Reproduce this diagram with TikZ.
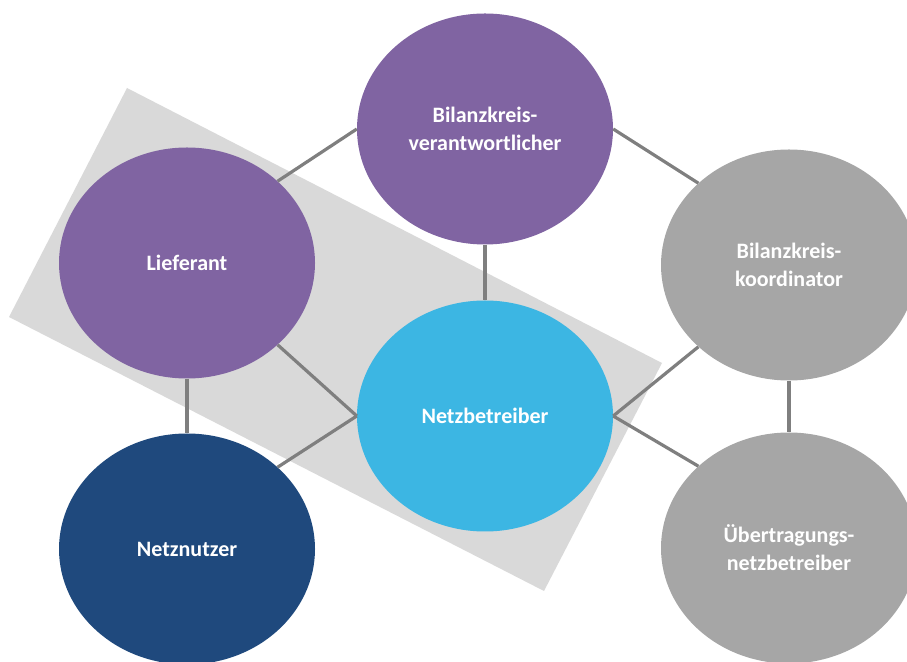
\documentclass[tikz,border=0pt]{standalone}
\usepackage{fontspec}
\setmainfont{Carlito}
\usetikzlibrary{shapes.geometric}
\definecolor{lila}{HTML}{8064A2}
\definecolor{hellblau}{HTML}{3CB6E3}
\definecolor{dunkelblau}{HTML}{1F497D}
\definecolor{grau}{HTML}{A6A6A6}
\definecolor{flaeche}{HTML}{D9D9D9}
\definecolor{linie}{HTML}{7F7F7F}
\tikzset{
  kreis/.style={ellipse,minimum width=256pt,minimum height=231pt,inner sep=0pt,
    text=white,align=center,font=\fontsize{22}{28}\selectfont\bfseries},
  verb/.style={draw=linie,line width=3.2pt}
}

\begin{document}
\begin{tikzpicture}[x=1pt,y=1pt]
\useasboundingbox (0,0) rectangle (907,661);
\fill[flaeche] (127,573)--(662,298)--(544,70)--(9,344)--cycle;
\node[kreis,fill=lila] (bkv) at (485,532) {Bilanzkreis-\\verantwortlicher};
\node[kreis,fill=lila] (lief) at (187,398) {Lieferant};
\node[kreis,fill=grau] (bkk) at (789,396) {Bilanzkreis-\\koordinator};
\node[kreis,fill=hellblau] (nb) at (485,245) {Netzbetreiber};
\node[kreis,fill=dunkelblau] (nn) at (187,112) {Netznutzer};
\node[kreis,fill=grau] (uenb) at (789,113) {Übertragungs-\\netzbetreiber};
\draw[verb] (lief.north east)--(bkv.west);
\draw[verb] (bkv.east)--(bkk.north west);
\draw[verb] (bkv.south)--(nb.north);
\draw[verb] (lief.south east)--(nb.west);
\draw[verb] (lief.south)--(nn.north);
\draw[verb] (nb.west)--(nn.north east);
\draw[verb] (nb.east)--(bkk.south west);
\draw[verb] (nb.east)--(uenb.north west);
\draw[verb] (bkk.south)--(uenb.north);
\end{tikzpicture}
\end{document}
